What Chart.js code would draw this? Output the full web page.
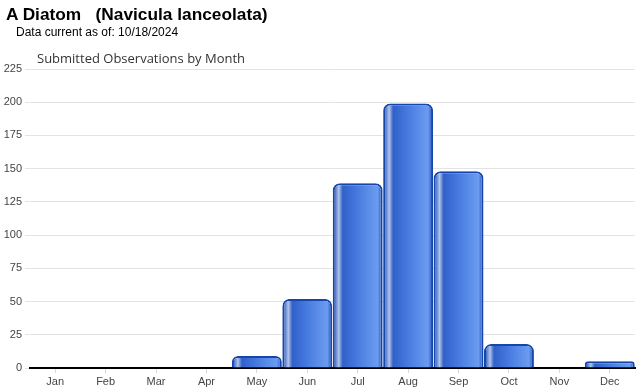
<!DOCTYPE html>
<html>
<head>
<meta charset="utf-8">
<script src="https://cdn.jsdelivr.net/npm/chart.js@4.4.1/dist/chart.umd.min.js"></script>
<style>
  html, body { margin: 0; padding: 0; background: #fff; }
  #wrap { position: relative; width: 640px; height: 390px; overflow: hidden; }
  canvas { position: absolute; left: 0; top: 0; }
  .t1 { position: absolute; left: 6px; top: 4px; font: bold 17.3px "Liberation Sans", Arial, sans-serif; color: #000; white-space: pre; }
  .t2 { position: absolute; left: 16px; top: 25px; font: 12px "Liberation Sans", Arial, sans-serif; color: #000; white-space: pre; }
  .t3 { position: absolute; left: 37px; top: 49px; font: 13px "Open Sans", sans-serif; color: #333; white-space: pre; }
</style>
</head>
<body>
<div id="wrap">
  <canvas id="c" width="640" height="390"></canvas>
  <div class="t1">A Diatom   (Navicula lanceolata)</div>
  <div class="t2">Data current as of: 10/18/2024</div>
  <div class="t3">Submitted Observations by Month</div>
</div>
<script>
const months = ["Jan","Feb","Mar","Apr","May","Jun","Jul","Aug","Sep","Oct","Nov","Dec"];
const observations = [0, 0, 0, 0, 9, 52, 139, 199, 148, 18, 0, 5];
const yTicks = [0, 25, 50, 75, 100, 125, 150, 175, 200, 225];
const BAR_PCT = 0.99;

function barGradient(context) {
  const chart = context.chart;
  const xs = chart.scales && chart.scales.x;
  if (!xs || context.dataIndex === undefined) return '#4a7ee0';
  const cx = xs.getPixelForValue(context.dataIndex);
  const w = (xs.right - xs.left) / months.length * BAR_PCT;
  if (!isFinite(cx) || !isFinite(w) || w <= 0) return '#4a7ee0';
  const g = chart.ctx.createLinearGradient(cx - w / 2, 0, cx + w / 2, 0);
  g.addColorStop(0.0, '#1a4aae');
  g.addColorStop(0.05, '#4f78cc');
  g.addColorStop(0.12, '#b2c4e8');
  g.addColorStop(0.2, '#3060c8');
  g.addColorStop(0.5, '#477be0');
  g.addColorStop(0.9, '#6c9cf0');
  g.addColorStop(1.0, '#1d4cb4');
  return g;
}

new Chart(document.getElementById('c'), {
  type: 'bar',
  data: {
    labels: months,
    datasets: [{
      data: observations,
      backgroundColor: barGradient,
      borderColor: '#1646aa',
      borderWidth: 2,
      borderRadius: { topLeft: 7, topRight: 7, bottomLeft: 0, bottomRight: 0 },
      borderSkipped: 'bottom',
      barPercentage: BAR_PCT,
      categoryPercentage: 1.0
    }]
  },
  options: {
    responsive: false,
    animation: false,
    devicePixelRatio: 1,
    layout: { padding: { top: 69, right: 5, bottom: 0, left: 0 } },
    plugins: { legend: { display: false }, tooltip: { enabled: false } },
    scales: {
      x: {
        afterFit: s => { s.height = 22; },
        grid: { display: true, offset: false, drawOnChartArea: false, tickLength: 5, color: '#d8d8d8' },
        border: { display: true, color: '#000', width: 2 },
        ticks: { font: { family: '"Liberation Sans", Arial, sans-serif', size: 11 }, color: '#444', padding: 2 }
      },
      y: {
        min: 0, max: 225,
        afterFit: s => { s.width = 30; },
        afterBuildTicks: s => { s.ticks = yTicks.map(v => ({ value: v })); },
        grid: { color: '#e3e3e3', tickLength: 5 },
        border: { display: false },
        ticks: { font: { family: '"Liberation Sans", Arial, sans-serif', size: 11 }, color: '#444', padding: 3 }
      }
    }
  }
});
</script>
</body>
</html>
